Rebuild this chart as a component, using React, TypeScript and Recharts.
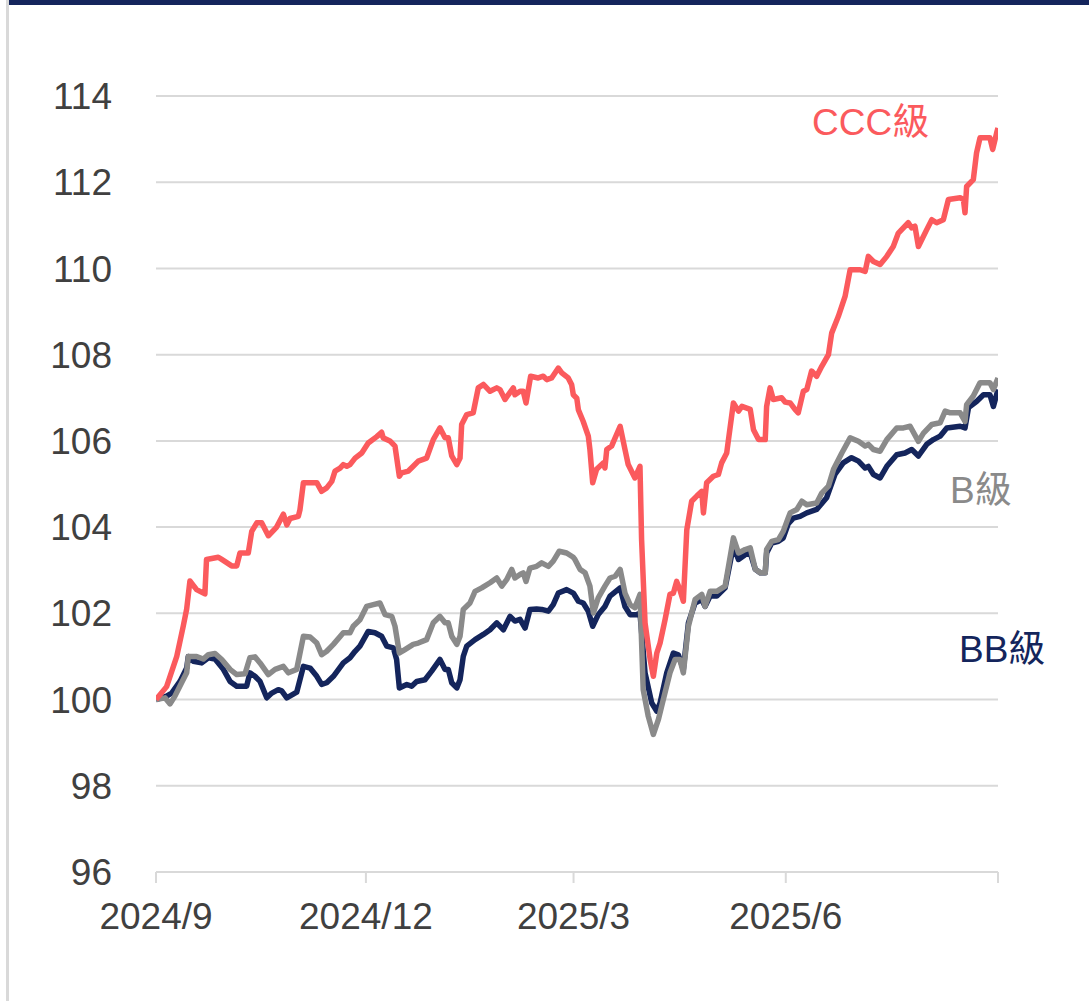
import { LineChart, Line, XAxis, YAxis, CartesianGrid } from 'recharts';

// x = days since 2024/9/1, y = index (2024/9/1 = 100)
const cccDays = [
  0, 4.6, 9.0, 11.8, 13.3, 14.7, 17.6, 21.2, 21.9, 27.0, 28.5, 32.8, 35.0, 36.4, 40.0, 41.5, 43.7, 45.8, 48.7, 52.3,
  55.2, 56.7, 58.1, 61.7, 62.4, 63.9, 69.7, 71.8, 74.0, 76.2, 77.6, 79.8, 81.2, 82.7, 84.1, 86.3, 89.2, 92.0, 95.7, 97.8,
  98.5, 101.4, 103.6, 105.5, 106.5, 109.4, 111.5, 113.7, 117.3, 120.2, 123.1, 125.3, 126.7, 128.2, 130.4, 131.8, 132.5, 134.7, 137.5, 139.7,
  141.9, 144.8, 147.7, 149.1, 151.3, 152.7, 154.9, 155.6, 157.8, 159.2, 160.4, 162.4, 165.7, 167.9, 169.4, 171.5, 174.4, 175.9, 178.7, 180.2,
  180.9, 182.4, 183.1, 185.2, 187.4, 188.1, 189.3, 191.0, 193.9, 194.6, 195.4, 197.5, 201.2, 203.3, 204.7, 207.6, 209.8, 210.5, 212.0, 214.2,
  215.6, 217.1, 218.5, 220.7, 222.8, 224.3, 225.7, 227.1, 228.6, 230.1, 232.2, 234.4, 236.6, 237.3, 238.7, 241.6, 243.8, 245.2, 247.4, 250.3,
  252.5, 254.0, 257.6, 259.0, 261.2, 264.1, 264.7, 266.2, 267.6, 271.2, 272.7, 274.9, 277.0, 278.4, 280.6, 282.1, 284.2, 286.4, 288.6, 291.5,
  292.9, 295.8, 298.7, 300.9, 305.2, 307.4, 308.8, 311.0, 313.9, 316.8, 319.6, 321.8, 326.1, 327.6, 329.0, 330.5, 334.1, 336.3, 338.4, 341.3,
  343.5, 348.6, 350.0, 350.7, 351.4, 354.3, 355.7, 357.2, 361.5, 362.7, 364.4, 365.0,
];
const cccValues = [
  100.0, 100.3, 101.0, 101.7, 102.1, 102.75, 102.55, 102.45, 103.25, 103.3, 103.25, 103.1, 103.1, 103.4, 103.4, 103.9, 104.1, 104.1, 103.8, 104.0,
  104.3, 104.05, 104.2, 104.25, 104.4, 105.03, 105.03, 104.83, 104.91, 105.06, 105.3, 105.37, 105.45, 105.41, 105.45, 105.6, 105.72, 105.95, 106.1, 106.2,
  106.07, 106.0, 105.88, 105.18, 105.26, 105.3, 105.41, 105.53, 105.6, 106.03, 106.3, 106.07, 106.07, 105.65, 105.45, 105.6, 106.38, 106.61, 106.65, 107.23,
  107.31, 107.15, 107.23, 107.19, 106.96, 107.07, 107.23, 107.07, 107.15, 107.15, 106.88, 107.5, 107.46, 107.5, 107.42, 107.46, 107.69, 107.58, 107.46, 107.3,
  107.07, 106.99, 106.72, 106.45, 106.11, 105.8, 105.03, 105.34, 105.49, 105.37, 105.8, 105.88, 106.34, 105.8, 105.45, 105.14, 105.41, 103.71, 101.78, 100.93,
  100.54, 101.08, 101.31, 101.86, 102.44, 102.47, 102.74, 102.55, 102.28, 103.94, 104.6, 104.72, 104.83, 104.33, 105.03, 105.18, 105.22, 105.49, 105.72, 106.88,
  106.69, 106.8, 106.73, 106.26, 106.03, 106.03, 106.8, 107.23, 106.96, 107.0, 106.9, 106.88, 106.73, 106.65, 107.15, 107.19, 107.62, 107.5, 107.73, 108.0,
  108.5, 108.89, 109.35, 109.97, 109.97, 109.93, 110.28, 110.16, 110.09, 110.28, 110.51, 110.82, 111.06, 110.94, 110.98, 110.51, 110.9, 111.13, 111.06, 111.13,
  111.6, 111.64, 111.6, 111.29, 111.9, 112.06, 112.68, 113.03, 113.03, 112.76, 113.14, 113.26,
];

const bDays = [
  0, 3.9, 6.1, 8.2, 11.1, 13.3, 14.0, 17.6, 20.5, 22.7, 25.6, 28.5, 32.1, 35.0, 38.6, 40.7, 42.9, 45.1, 48.7, 51.6,
  55.2, 57.4, 61.0, 63.9, 66.8, 69.7, 71.8, 74.0, 76.9, 81.2, 84.1, 85.5, 88.4, 91.3, 94.2, 97.1, 99.3, 102.2, 103.6, 105.5,
  107.9, 111.5, 113.7, 117.3, 120.2, 123.1, 125.3, 126.7, 128.2, 130.4, 131.8, 133.2, 136.1, 138.3, 141.2, 144.8, 147.7, 149.9, 152.0, 154.2,
  155.6, 157.8, 159.2, 160.4, 162.1, 165.0, 167.2, 170.1, 172.2, 174.8, 178.0, 180.9, 181.6, 183.8, 186.0, 188.1, 189.6, 191.7, 194.6, 196.8,
  199.0, 201.2, 203.3, 205.5, 207.6, 209.8, 211.2, 213.4, 215.6, 217.8, 219.9, 222.8, 225.0, 227.1, 228.6, 230.8, 233.7, 236.6, 238.0, 240.2,
  243.1, 246.7, 250.3, 252.5, 255.4, 257.6, 259.8, 261.9, 264.1, 264.7, 266.9, 269.8, 271.9, 274.1, 274.9, 277.8, 280.0, 282.1, 286.4, 288.6,
  291.5, 293.7, 297.3, 300.9, 304.5, 307.4, 308.8, 311.0, 313.9, 316.8, 321.1, 324.0, 326.9, 330.5, 332.7, 336.3, 339.9, 342.1, 344.3, 348.6,
  350.7, 351.4, 354.3, 357.2, 361.5, 363.0, 365.0,
];
const bValues = [
  100.0, 100.04, 99.9, 100.08, 100.39, 100.62, 101.0, 101.0, 100.94, 101.04, 101.07, 100.93, 100.7, 100.58, 100.6, 100.97, 100.99, 100.85, 100.58, 100.7,
  100.77, 100.62, 100.7, 101.47, 101.45, 101.31, 101.04, 101.12, 101.28, 101.55, 101.55, 101.7, 101.85, 102.16, 102.2, 102.24, 101.97, 101.93, 101.7, 101.08,
  101.16, 101.28, 101.31, 101.39, 101.78, 101.93, 101.78, 101.78, 101.47, 101.28, 101.47, 102.09, 102.24, 102.51, 102.59, 102.71, 102.82, 102.63, 102.78, 103.02,
  102.82, 102.9, 102.94, 102.74, 103.05, 103.09, 103.17, 103.09, 103.21, 103.44, 103.4, 103.3, 103.25, 103.02, 102.94, 102.63, 102.01, 102.36, 102.63, 102.82,
  102.86, 103.02, 102.47, 102.2, 102.13, 102.44, 100.23, 99.61, 99.19, 99.54, 100.0, 100.62, 100.93, 100.93, 100.62, 101.7, 102.32, 102.44, 102.16, 102.51,
  102.51, 102.63, 103.75, 103.4, 103.48, 103.52, 103.02, 102.94, 102.94, 103.48, 103.67, 103.71, 103.9, 104.22, 104.33, 104.41, 104.6, 104.52, 104.56, 104.79,
  104.95, 105.34, 105.72, 106.07, 105.99, 105.88, 105.92, 105.8, 105.76, 106.03, 106.3, 106.3, 106.34, 105.99, 106.18, 106.38, 106.42, 106.69, 106.65, 106.65,
  106.45, 106.84, 107.04, 107.35, 107.35, 107.19, 107.46,
];

const bbDays = [
  0, 4.6, 6.8, 10.4, 13.3, 14.0, 16.2, 19.8, 22.7, 25.6, 29.2, 32.1, 35.0, 39.3, 40.7, 42.9, 45.1, 48.0, 50.2, 53.0,
  54.5, 56.7, 61.0, 63.9, 66.8, 69.7, 71.8, 74.0, 76.9, 81.2, 84.1, 86.3, 88.4, 92.0, 94.9, 97.8, 100.0, 102.9, 104.3, 105.5,
  108.7, 110.8, 113.0, 116.6, 119.5, 123.1, 125.3, 126.7, 128.2, 130.4, 131.8, 133.2, 134.7, 138.3, 141.9, 144.8, 147.7, 150.6, 153.5, 155.6,
  157.8, 160.0, 162.1, 165.0, 167.2, 170.1, 172.2, 174.4, 178.0, 180.9, 183.1, 185.2, 187.4, 189.3, 191.7, 194.6, 196.8, 201.2, 203.3, 205.5,
  208.4, 209.8, 212.0, 214.9, 217.1, 218.5, 221.4, 224.3, 226.4, 228.6, 230.8, 233.7, 236.6, 238.0, 240.2, 243.1, 246.7, 250.3, 252.5, 255.4,
  257.6, 259.8, 261.9, 264.1, 264.7, 266.9, 269.8, 271.9, 274.1, 276.3, 279.2, 282.1, 286.4, 290.7, 294.3, 297.9, 301.5, 304.5, 307.4, 308.8,
  311.0, 313.9, 316.8, 321.1, 324.7, 327.6, 330.5, 334.1, 337.0, 339.9, 342.8, 348.6, 350.7, 352.2, 355.8, 358.7, 361.5, 363.0, 365.0,
];
const bbValues = [
  100.0, 100.08, 100.15, 100.42, 100.73, 101.0, 100.89, 100.85, 100.97, 100.94, 100.7, 100.42, 100.31, 100.31, 100.62, 100.54, 100.42, 100.04, 100.15, 100.23,
  100.2, 100.04, 100.17, 100.77, 100.73, 100.54, 100.35, 100.39, 100.54, 100.85, 100.97, 101.12, 101.24, 101.58, 101.55, 101.47, 101.24, 101.2, 100.93, 100.27,
  100.35, 100.31, 100.42, 100.46, 100.66, 100.93, 100.7, 100.7, 100.39, 100.27, 100.46, 101.0, 101.24, 101.39, 101.51, 101.62, 101.78, 101.62, 101.93, 101.82,
  101.86, 101.66, 102.09, 102.1, 102.09, 102.05, 102.2, 102.47, 102.55, 102.47, 102.28, 102.24, 102.05, 101.7, 101.97, 102.16, 102.4, 102.59, 102.16, 101.97,
  101.97, 102.0, 100.62, 99.92, 99.73, 99.92, 100.62, 101.08, 101.04, 100.7, 101.78, 102.24, 102.32, 102.16, 102.4, 102.4, 102.59, 103.56, 103.25, 103.36,
  103.4, 103.02, 102.94, 102.94, 103.4, 103.63, 103.67, 103.75, 104.08, 104.21, 104.25, 104.33, 104.41, 104.68, 105.22, 105.49, 105.61, 105.53, 105.37, 105.41,
  105.22, 105.14, 105.41, 105.68, 105.72, 105.8, 105.65, 105.92, 106.03, 106.11, 106.3, 106.34, 106.3, 106.77, 106.92, 107.07, 107.07, 106.8, 107.19,
];

const xTickDays = [0, 91, 181, 273, 365];
const xTickLabels = ['2024/9', '2024/12', '2025/3', '2025/6', ''];
const yTicks = [96, 98, 100, 102, 104, 106, 108, 110, 112, 114];

const toRows = (days: number[], values: number[]) => days.map((d, i) => ({ day: d, value: values[i] }));

const FONT = '"Liberation Sans", Arial, "Noto Sans CJK TC", sans-serif';
const NAVY = '#14255c';
const GRAY = '#8a8a8a';
const RED = '#fb5a5d';
const GRID = '#d9d9d9';

export default function App() {
  const tickStyle = { fill: '#404040', fontSize: 37, fontFamily: FONT };
  return (
    <div style={{ position: 'absolute', left: 0, top: 0, width: 1089, height: 1001, background: '#fff', overflow: 'hidden' }}>
      <div style={{ position: 'absolute', left: 7, top: 0, width: 1082, height: 5, background: NAVY }} />
      <div style={{ position: 'absolute', left: 6, top: 0, width: 3, height: 1001, background: GRID }} />
      <LineChart width={1089} height={1001} margin={{ top: 96, right: 91, bottom: 69, left: 96 }}>
        <CartesianGrid vertical={false} stroke={GRID} strokeWidth={2} />
        <XAxis
          type="number"
          dataKey="day"
          domain={[0, 365]}
          ticks={xTickDays}
          tickFormatter={(v: number) => xTickLabels[xTickDays.indexOf(v)] ?? ''}
          interval={0}
          height={60}
          stroke={GRID}
          strokeWidth={2}
          tickSize={11}
          tickMargin={20}
          tick={tickStyle}
          allowDataOverflow
        />
        <YAxis
          type="number"
          domain={[96, 114]}
          ticks={yTicks}
          interval={0}
          width={60}
          axisLine={false}
          tickLine={false}
          tickSize={0}
          tickMargin={44}
          tick={tickStyle}
          allowDataOverflow
        />
        <Line data={toRows(bbDays, bbValues)} dataKey="value" type="linear" stroke={NAVY} strokeWidth={5.5} dot={false} strokeLinejoin="round" isAnimationActive={false} />
        <Line data={toRows(bDays, bValues)} dataKey="value" type="linear" stroke={GRAY} strokeWidth={5.5} dot={false} strokeLinejoin="round" isAnimationActive={false} />
        <Line data={toRows(cccDays, cccValues)} dataKey="value" type="linear" stroke={RED} strokeWidth={5.5} dot={false} strokeLinejoin="round" isAnimationActive={false} />
      </LineChart>
      <svg width={1089} height={1001} style={{ position: 'absolute', left: 0, top: 0, pointerEvents: 'none' }}>
        <text x={812} y={135} fill={RED} fontSize={37} fontFamily={FONT}>CCC級</text>
        <text x={950} y={503} fill={GRAY} fontSize={37} fontFamily={FONT}>B級</text>
        <text x={959} y={662} fill={NAVY} fontSize={37} fontFamily={FONT}>BB級</text>
      </svg>
    </div>
  );
}
